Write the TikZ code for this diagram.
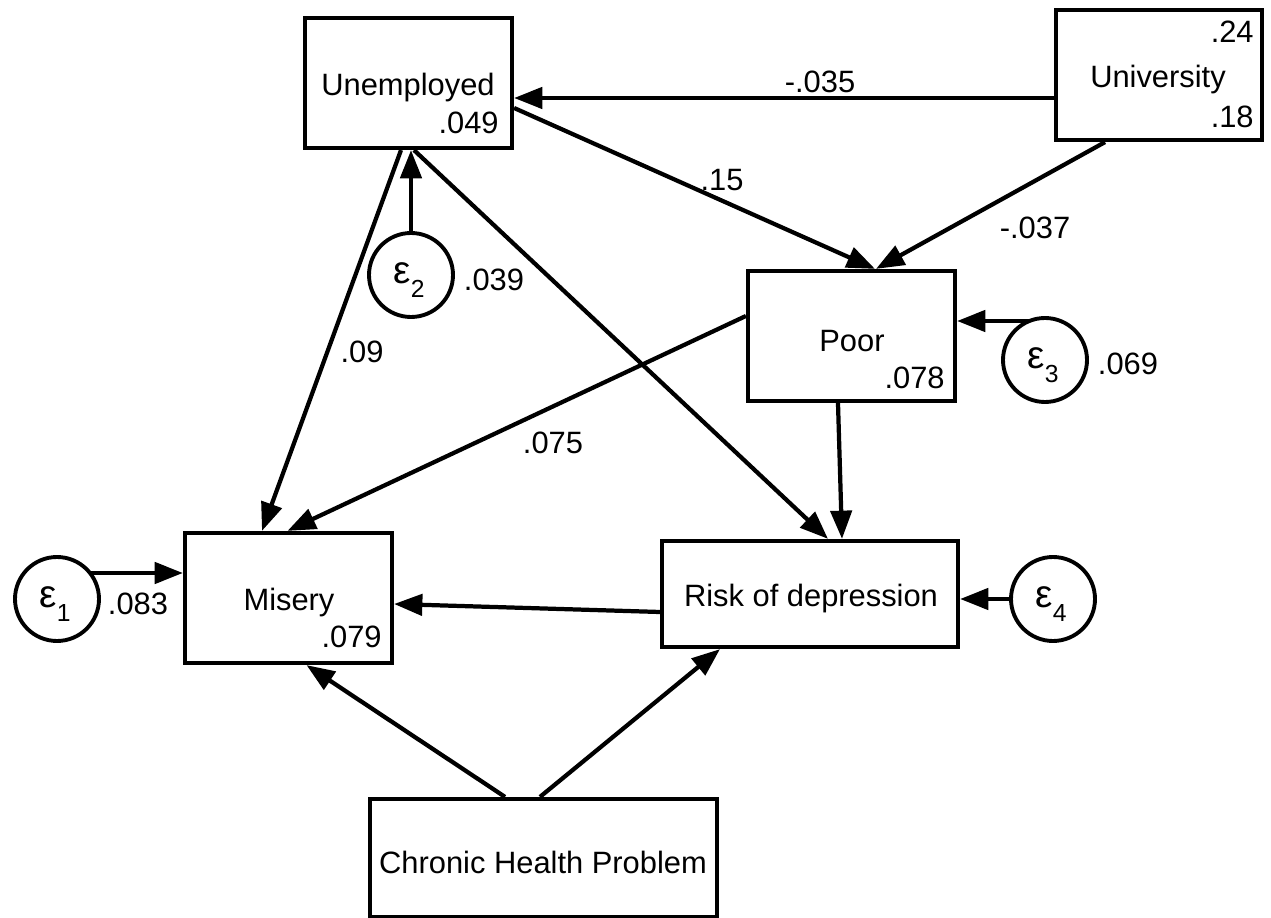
\documentclass[tikz,border=0pt]{standalone}
\usepackage{fontspec}
\setmainfont{Liberation Sans}
\usetikzlibrary{arrows.meta,calc}
\def\u{0.56697pt}
\tikzset{
  box/.style={draw, line width=2.4pt, rectangle, inner sep=0pt},
  err/.style={draw, line width=2.2pt, circle, minimum size=84*\u, inner sep=0pt},
  arr/.style={line width=2.4pt, -{Triangle[length=16pt,width=12pt]}},
  lbl/.style={font=\fontsize{17.5}{21}\selectfont, inner sep=0pt},
}
\newcommand{\eps}[1]{{\fontsize{22}{24}\selectfont ε}\raisebox{-0.45em}{\fontsize{14}{15}\selectfont #1}}
\begin{document}
\begin{tikzpicture}[x=\u, y=-\u]
\useasboundingbox (0,0) rectangle (1271,918);
% boxes
\node[box, minimum width=207*\u, minimum height=130*\u] (un) at (408.5,83) {};
\node[box, minimum width=206*\u, minimum height=130*\u] (uni) at (1159,75) {};
\node[box, minimum width=207*\u, minimum height=130*\u] (poor) at (851.5,336) {};
\node[box, minimum width=207*\u, minimum height=130*\u] (mis) at (288.5,598) {};
\node[box, minimum width=296*\u, minimum height=106*\u] (risk) at (810,594) {};
\node[box, minimum width=347*\u, minimum height=118*\u] (chp) at (543.5,858) {};
% box texts
\node[lbl] (tun) at (408,88) {Unemployed};
\node[lbl, anchor=east] (vun) at (499,123) {.049};
\node[lbl, anchor=east] (vuni1) at (1254,32) {.24};
\node[lbl] (tuni) at (1158,80) {University};
\node[lbl, anchor=east] (vuni2) at (1254,117) {.18};
\node[lbl] (tpoor) at (852,341) {Poor};
\node[lbl, anchor=east] (vpoor) at (945,378) {.078};
\node[lbl] (tmis) at (289,603) {Misery};
\node[lbl, anchor=east] (vmis) at (382,637) {.079};
\node[lbl] (trisk) at (811,599) {Risk of depression};
\node[lbl] (tchp) at (543,862) {Chronic Health Problem};
% error circles
\node[err] (e1) at (57,599) {};
\node[err] (e2) at (411,275) {};
\node[err] (e3) at (1045,360) {};
\node[err] (e4) at (1053,599) {};
\node[lbl] at (55,604) {\eps{1}};
\node[lbl] at (409,280) {\eps{2}};
\node[lbl] at (1043,365) {\eps{3}};
\node[lbl] at (1051,604) {\eps{4}};
% outside labels
\node[lbl] (l1) at (138,604) {.083};
\node[lbl] (l2) at (494,280) {.039};
\node[lbl] (l3) at (1128,364) {.069};
\node[lbl] (l4) at (820,82) {-.035};
\node[lbl] (l5) at (722,180) {.15};
\node[lbl] (l6) at (1035,228) {-.037};
\node[lbl] (l7) at (362,352) {.09};
\node[lbl] (l8) at (553,443) {.075};
% arrows
\draw[arr] ($(uni.west)+(0,23)$) -- ($(un.east)+(0,15)$);
\draw[arr] ($(un.east)+(0,25)$) -- ($(poor.north)+(23.5,0)$);
\draw[arr] ($(uni.south)+(-54,0)$) -- ($(poor.north)+(24.5,0)$);
\draw[arr] (e2.north) -- (e2.north |- un.south);
\draw[arr] ($(un.south)+(-7.5,0)$) -- ($(mis.north)+(-26.5,0)$);
\draw[arr] ($(un.south)+(5.5,0)$) -- ($(risk.north)+(18,0)$);
\draw[arr] ($(poor.west)+(0,-20)$) -- ($(mis.north)+(-1,0)$);
\draw[arr] ($(poor.south)+(-13.5,0)$) -- ($(risk.north)+(32,0)$);
\draw[arr] ($(e3.center)+(-16,-39)$) -- ($(poor.east)+(0,-15)$);
\draw[arr] ($(risk.west)+(0,18)$) -- ($(mis.east)+(0,6)$);
\draw[arr] (e4.west) -- (e4.west -| risk.east);
\draw[arr] ($(e1.center)+(33,-26)$) -- ($(mis.west)+(0,-25)$);
\draw[arr] ($(chp.north)+(-38.5,0)$) -- ($(mis.south)+(18,0)$);
\draw[arr] ($(chp.north)+(-3.5,0)$) -- ($(risk.south)+(-90,0)$);
\end{tikzpicture}
\end{document}
